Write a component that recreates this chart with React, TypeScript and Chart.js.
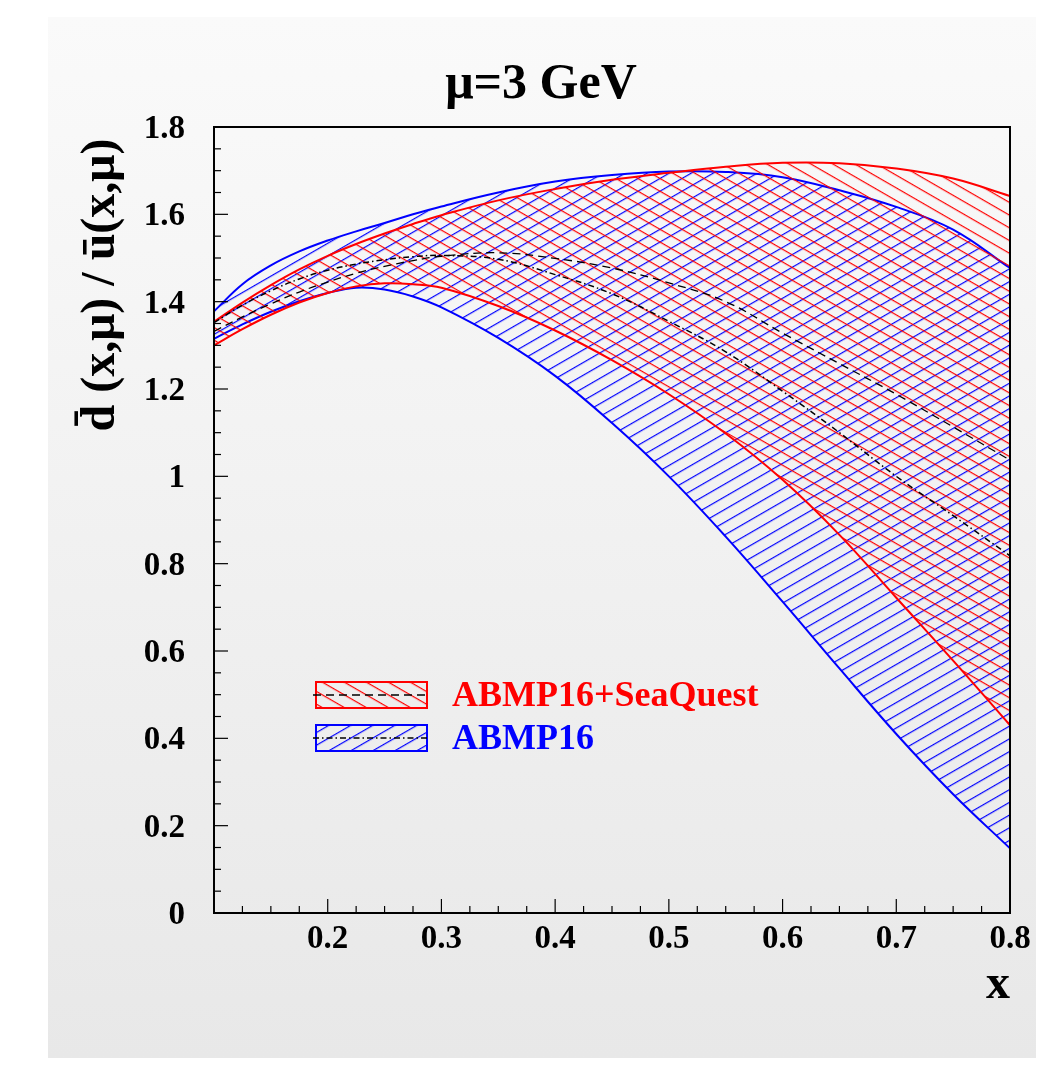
import React, { useEffect, useRef } from "react";
import { Chart, registerables } from "chart.js";

Chart.register(...registerables);

// ---- data ----
const xValues = [0.1, 0.125, 0.15, 0.175, 0.2, 0.225, 0.25, 0.275, 0.3, 0.35, 0.4, 0.45, 0.5, 0.55, 0.6, 0.65, 0.7, 0.75, 0.8];

const seaQuestUpper = [1.354, 1.398, 1.438, 1.474, 1.505, 1.532, 1.556, 1.578, 1.598, 1.632, 1.658, 1.679, 1.695, 1.709, 1.718, 1.717, 1.705, 1.682, 1.642];
const seaQuestLower = [1.300, 1.337, 1.370, 1.398, 1.420, 1.435, 1.442, 1.440, 1.432, 1.390, 1.334, 1.266, 1.188, 1.098, 0.992, 0.866, 0.722, 0.578, 0.430];
const seaQuestCentral = [1.332, 1.365, 1.395, 1.422, 1.445, 1.465, 1.481, 1.494, 1.504, 1.512, 1.499, 1.477, 1.443, 1.400, 1.328, 1.258, 1.188, 1.113, 1.037];

const abmpUpper = [1.378, 1.440, 1.483, 1.515, 1.540, 1.561, 1.580, 1.600, 1.618, 1.650, 1.675, 1.690, 1.698, 1.697, 1.685, 1.655, 1.617, 1.565, 1.477];
const abmpLower = [1.315, 1.348, 1.377, 1.401, 1.420, 1.432, 1.428, 1.412, 1.387, 1.317, 1.230, 1.122, 1.000, 0.862, 0.713, 0.560, 0.410, 0.272, 0.148];
const abmpCentral = [1.352, 1.392, 1.425, 1.452, 1.472, 1.486, 1.496, 1.503, 1.506, 1.497, 1.462, 1.418, 1.355, 1.285, 1.195, 1.100, 1.000, 0.910, 0.818];

const xTickValues = [0.2, 0.3, 0.4, 0.5, 0.6, 0.7, 0.8];
const xTickLabels = ["0.2", "0.3", "0.4", "0.5", "0.6", "0.7", "0.8"];
const yTickValues = [0, 0.2, 0.4, 0.6, 0.8, 1, 1.2, 1.4, 1.6, 1.8];
const yTickLabels = ["0", "0.2", "0.4", "0.6", "0.8", "1", "1.2", "1.4", "1.6", "1.8"];

const seriesNames = ["ABMP16+SeaQuest", "ABMP16"];
const titleText = "\u03bc=3 GeV";
const yTitleText = "d\u0304 (x,\u03bc) / u\u0304(x,\u03bc)";
const xTitleText = "x";

const RED = "#ff0000";
const BLUE = "#0000ff";
const SERIF = '"Liberation Serif", "Times New Roman", serif';

function makeHatch(color: string, angle: number, spacing: number): CanvasPattern {
  const c = document.createElement("canvas");
  c.width = 40;
  c.height = spacing;
  const g = c.getContext("2d")!;
  g.fillStyle = color;
  g.fillRect(0, 0, 40, 1.2);
  const p = g.createPattern(c, "repeat")!;
  p.setTransform(new DOMMatrix().rotate(angle));
  return p;
}

const pts = (ys: number[]) => xValues.map((x, i) => ({ x, y: ys[i] }));

export default function App() {
  const ref = useRef<HTMLCanvasElement | null>(null);

  useEffect(() => {
    const canvas = ref.current!;
    const redHatch = makeHatch(RED, 30, 11);
    const blueHatch = makeHatch(BLUE, -30, 11);
    const dashA = [8, 5];
    const dashB = [6, 3, 1.5, 3];

    const decor = {
      id: "decor",
      beforeDraw(chart: any) {
        const ctx = chart.ctx;
        ctx.save();
        ctx.fillStyle = "#ffffff";
        ctx.fillRect(0, 0, chart.width, chart.height);
        const grd = ctx.createLinearGradient(0, 17, 0, 1058);
        grd.addColorStop(0, "#fafafa");
        grd.addColorStop(1, "#e8e8e8");
        ctx.fillStyle = grd;
        ctx.fillRect(48, 17, 988, 1041);
        ctx.restore();
      },
      afterDraw(chart: any) {
        const ctx = chart.ctx;
        const xs = chart.scales.x;
        const ys = chart.scales.y;
        const { left, right, top, bottom } = chart.chartArea;
        ctx.save();
        ctx.strokeStyle = "#000";
        ctx.lineWidth = 1.2;
        // x ticks
        for (let k = 0; k <= 28; k++) {
          const px = xs.getPixelForValue(0.1 + k * 0.025);
          const len = k % 4 === 0 ? 14 : 7;
          ctx.beginPath();
          ctx.moveTo(px, bottom);
          ctx.lineTo(px, bottom - len);
          ctx.stroke();
        }
        // y ticks
        for (let k = 0; k <= 36; k++) {
          const py = ys.getPixelForValue(k * 0.05);
          const len = k % 4 === 0 ? 14 : 7;
          ctx.beginPath();
          ctx.moveTo(left, py);
          ctx.lineTo(left + len, py);
          ctx.stroke();
        }
        // frame
        ctx.lineWidth = 2;
        ctx.strokeRect(left, top, right - left, bottom - top);

        // tick labels
        ctx.fillStyle = "#000";
        ctx.font = `bold 33px ${SERIF}`;
        ctx.textAlign = "center";
        ctx.textBaseline = "alphabetic";
        xTickValues.forEach((v, i) => {
          ctx.fillText(xTickLabels[i], xs.getPixelForValue(v), bottom + 35);
        });
        ctx.textAlign = "right";
        yTickValues.forEach((v, i) => {
          ctx.fillText(yTickLabels[i], left - 29, ys.getPixelForValue(v) + 11);
        });

        // title
        ctx.textAlign = "center";
        ctx.font = `bold 50px ${SERIF}`;
        ctx.fillText(titleText, 541, 98);

        // x title
        ctx.textAlign = "right";
        ctx.font = `bold 48px ${SERIF}`;
        ctx.fillText(xTitleText, right, bottom + 85);

        // y title
        ctx.save();
        ctx.translate(114, 285);
        ctx.rotate(-Math.PI / 2);
        ctx.textAlign = "center";
        ctx.font = `bold 48px ${SERIF}`;
        ctx.fillText(yTitleText, 0, 0);
        ctx.restore();

        // legend
        const boxes = [
          { y: 682, hatch: redHatch, color: RED, dash: dashA },
          { y: 725, hatch: blueHatch, color: BLUE, dash: dashB },
        ];
        boxes.forEach((b, i) => {
          const bx = 316, bw = 111, bh = 26;
          ctx.fillStyle = b.hatch;
          ctx.fillRect(bx, b.y, bw, bh);
          ctx.strokeStyle = b.color;
          ctx.lineWidth = 2;
          ctx.strokeRect(bx, b.y, bw, bh);
          ctx.strokeStyle = "#000";
          ctx.lineWidth = 1.3;
          ctx.setLineDash(b.dash);
          ctx.beginPath();
          ctx.moveTo(bx - 3, b.y + bh / 2);
          ctx.lineTo(bx + bw, b.y + bh / 2);
          ctx.stroke();
          ctx.setLineDash([]);
          ctx.fillStyle = b.color;
          ctx.font = `bold 36px ${SERIF}`;
          ctx.textAlign = "left";
          ctx.fillText(seriesNames[i], 452, b.y + 24);
        });
        ctx.restore();
      },
    };

    const common = { pointRadius: 0, tension: 0.4 };

    const chart = new Chart(canvas, {
      type: "line",
      data: {
        datasets: [
          { label: "sq-central", data: pts(seaQuestCentral), borderColor: "#000", borderWidth: 1.3, borderDash: dashA, fill: false, ...common },
          { label: "abmp-central", data: pts(abmpCentral), borderColor: "#000", borderWidth: 1.5, borderDash: dashB, fill: false, ...common },
          { label: "sq-upper", data: pts(seaQuestUpper), borderColor: RED, borderWidth: 2, backgroundColor: redHatch as any, fill: { target: "+1", above: redHatch as any, below: redHatch as any }, ...common },
          { label: "sq-lower", data: pts(seaQuestLower), borderColor: RED, borderWidth: 2, fill: false, ...common },
          { label: "abmp-upper", data: pts(abmpUpper), borderColor: BLUE, borderWidth: 2, backgroundColor: blueHatch as any, fill: { target: "+1", above: blueHatch as any, below: blueHatch as any }, ...common },
          { label: "abmp-lower", data: pts(abmpLower), borderColor: BLUE, borderWidth: 2, fill: false, ...common },
        ],
      },
      options: {
        animation: false,
        responsive: false,
        devicePixelRatio: 1,
        layout: { padding: { left: 214, top: 127, right: 41, bottom: 154 } },
        scales: {
          x: { type: "linear", min: 0.1, max: 0.8, display: false },
          y: { type: "linear", min: 0, max: 1.8, display: false },
        },
        plugins: { legend: { display: false }, tooltip: { enabled: false } },
      },
      plugins: [decor],
    });
    return () => chart.destroy();
  }, []);

  return (
    <div style={{ position: "absolute", left: 0, top: 0, width: 1051, height: 1067 }}>
      <canvas ref={ref} width={1051} height={1067} style={{ display: "block" }} />
    </div>
  );
}
